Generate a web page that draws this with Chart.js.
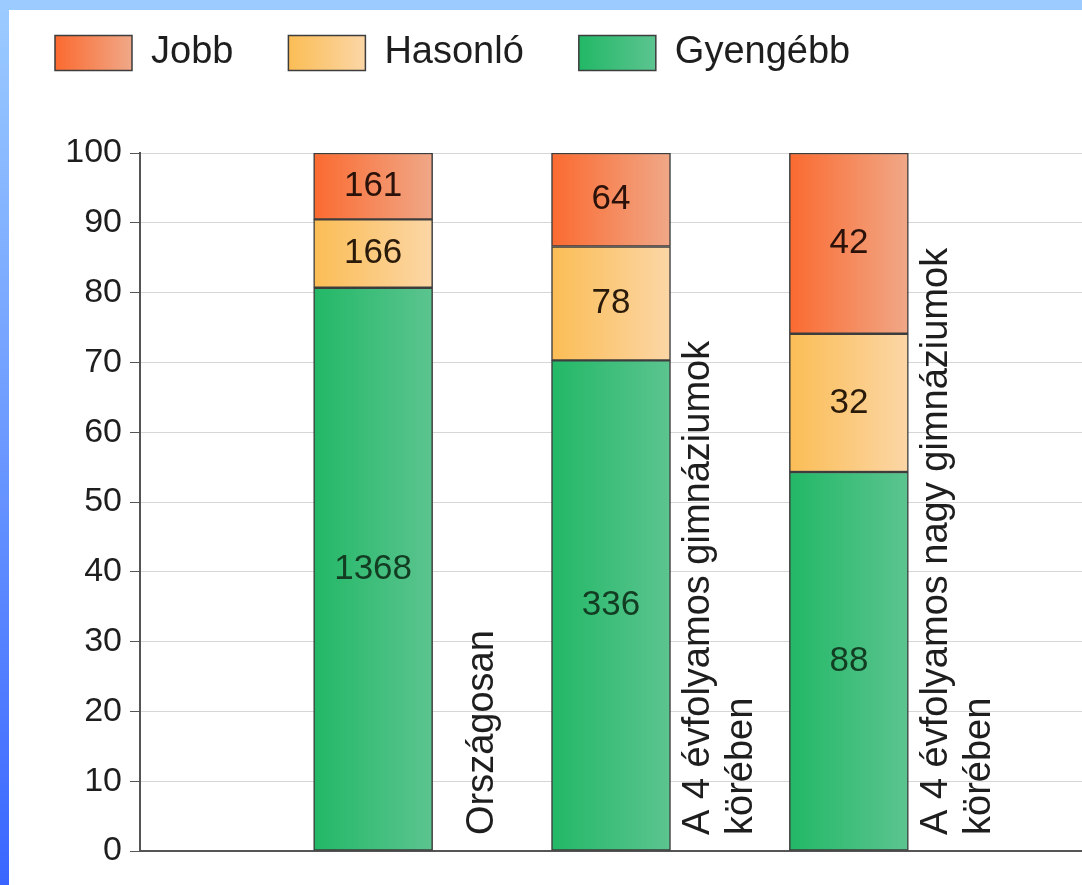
<!DOCTYPE html>
<html>
<head>
<meta charset="utf-8">
<script src="https://cdn.jsdelivr.net/npm/chart.js@4.4.1/dist/chart.umd.min.js"></script>
<style>
  html, body { margin: 0; padding: 0; background: #fff; }
  #wrap { position: relative; width: 1082px; height: 885px; overflow: hidden; }
  #chart { position: absolute; left: 0; top: 0; }
  .band-top { position: absolute; left: 0; top: 0; width: 1082px; height: 10px; background: #9cccff; z-index: 2; }
  .band-left { position: absolute; left: 0; top: 0; width: 9px; height: 885px; background: linear-gradient(#9cccff, #3a66ff); z-index: 2; }
</style>
</head>
<body>
<div id="wrap">
  <canvas id="chart" width="1082" height="885"></canvas>
  <div class="band-top"></div>
  <div class="band-left"></div>
</div>
<script>
// kategóriák (a függőleges feliratok sorai)
const categoryLines = [
  ['Országosan'],
  ['A 4 évfolyamos gimnáziumok', 'körében'],
  ['A 4 évfolyamos nagy gimnáziumok', 'körében']
];

// százalékos arányok (oszlopmagasság)
const gyengebbPct = [80.7, 70.3, 54.3];
const hasonloPct = [9.8, 16.3, 19.8];
const jobbPct = [9.5, 13.4, 25.9];

// esetszámok (feliratok az oszlopokon)
const gyengebbDb = [1368, 336, 88];
const hasonloDb = [166, 78, 32];
const jobbDb = [161, 64, 42];

const FONT = '"Liberation Sans", Arial, sans-serif';
Chart.defaults.font.family = FONT;

function barFill(ctx) {
  const chart = ctx.chart;
  const ds = ctx.dataset;
  if (!chart.chartArea || ctx.type !== 'data' || !ctx.parsed) return ds.solid;
  const x = chart.scales.x.getPixelForValue(ctx.parsed.x);
  const g = chart.ctx.createLinearGradient(x - 60, 0, x + 60, 0);
  g.addColorStop(0, ds.fillLeft);
  g.addColorStop(1, ds.fillRight);
  return g;
}

function points(values) {
  return values.map((v, i) => ({ x: i, y: v }));
}

// a jelmagyarázat dobozai is színátmenetesek legyenek
const legendGradients = {
  id: 'legendGradients',
  afterUpdate(chart) {
    const lg = chart.legend;
    if (!lg || !lg.legendItems) return;
    lg.legendItems.forEach((item, i) => {
      const hb = lg.legendHitBoxes[i];
      const ds = chart.data.datasets[item.datasetIndex];
      const g = chart.ctx.createLinearGradient(hb.left, 0, hb.left + 77, 0);
      g.addColorStop(0, ds.fillLeft);
      g.addColorStop(1, ds.fillRight);
      item.fillStyle = g;
    });
  }
};

const valueLabels = {
  id: 'valueLabels',
  afterDatasetsDraw(chart) {
    const c = chart.ctx;
    c.save();
    c.font = '35px ' + FONT;
    c.textAlign = 'center';
    c.textBaseline = 'middle';
    chart.data.datasets.forEach((ds, d) => {
      chart.getDatasetMeta(d).data.forEach((bar, i) => {
        c.fillStyle = ds.labelColor;
        c.fillText(ds.counts[i], bar.x, (bar.y + bar.base) / 2);
      });
    });
    c.restore();
  }
};

const categoryLabels = {
  id: 'categoryLabels',
  afterDatasetsDraw(chart) {
    const c = chart.ctx;
    const xs = chart.scales.x;
    const bottom = chart.chartArea.bottom;
    c.save();
    c.font = '38px ' + FONT;
    c.fillStyle = '#1e1e1e';
    c.textAlign = 'left';
    c.textBaseline = 'middle';
    categoryLines.forEach((lines, i) => {
      c.save();
      c.translate(xs.getPixelForValue(i + 0.46), bottom - 16);
      c.rotate(-Math.PI / 2);
      lines.forEach((t, k) => c.fillText(t, 0, (k - (lines.length - 1) / 2) * 43));
      c.restore();
    });
    c.restore();
  }
};

new Chart(document.getElementById('chart'), {
  type: 'bar',
  data: {
    datasets: [
      {
        label: 'Gyengébb',
        data: points(gyengebbPct),
        counts: gyengebbDb,
        labelColor: '#123d22',
        fillLeft: '#22b866', fillRight: '#5cc490', solid: '#36b872',
        backgroundColor: barFill,
        borderColor: '#3d3d3d',
        borderWidth: 1.5,
        borderSkipped: false,
        barThickness: 119
      },
      {
        label: 'Hasonló',
        data: points(hasonloPct),
        counts: hasonloDb,
        labelColor: '#2a1a0a',
        fillLeft: '#fbbd55', fillRight: '#fbd6a6', solid: '#f8c47e',
        backgroundColor: barFill,
        borderColor: '#3d3d3d',
        borderWidth: 1.5,
        borderSkipped: false,
        barThickness: 119
      },
      {
        label: 'Jobb',
        data: points(jobbPct),
        counts: jobbDb,
        labelColor: '#2a120a',
        fillLeft: '#fb6a30', fillRight: '#f0a888', solid: '#f47a48',
        backgroundColor: barFill,
        borderColor: '#3d3d3d',
        borderWidth: 1.5,
        borderSkipped: false,
        barThickness: 119
      }
    ]
  },
  options: {
    responsive: false,
    animation: false,
    devicePixelRatio: 1,
    layout: { padding: { top: -21, bottom: 34, left: 0, right: 0 } },
    plugins: {
      tooltip: { enabled: false },
      legend: {
        position: 'top',
        align: 'start',
        reverse: true,
        labels: {
          boxWidth: 77,
          boxHeight: 35,
          padding: 55,
          color: '#1e1e1e',
          font: { size: 38 }
        }
      }
    },
    scales: {
      x: {
        type: 'linear',
        min: -0.98,
        max: 2.98,
        offset: false,
        stacked: true,
        grid: { display: false },
        ticks: { display: false },
        border: { color: '#555', width: 2 },
        afterFit: s => { s.height = 0; }
      },
      // üres felső tengely: csak a jelmagyarázat alatti térközt adja
      xTop: {
        type: 'linear',
        axis: 'x',
        position: 'top',
        grid: { display: false },
        ticks: { display: false },
        border: { display: false },
        afterFit: s => { s.height = 71; }
      },
      y: {
        stacked: true,
        min: 0,
        max: 100,
        ticks: { stepSize: 10, color: '#1e1e1e', padding: 8, font: { size: 34 } },
        grid: { color: '#d6d6d6', tickColor: '#555', tickLength: 10 },
        border: { color: '#555', width: 2 },
        afterFit: s => { s.width = 140; }
      }
    }
  },
  plugins: [legendGradients, valueLabels, categoryLabels]
});
</script>
</body>
</html>
